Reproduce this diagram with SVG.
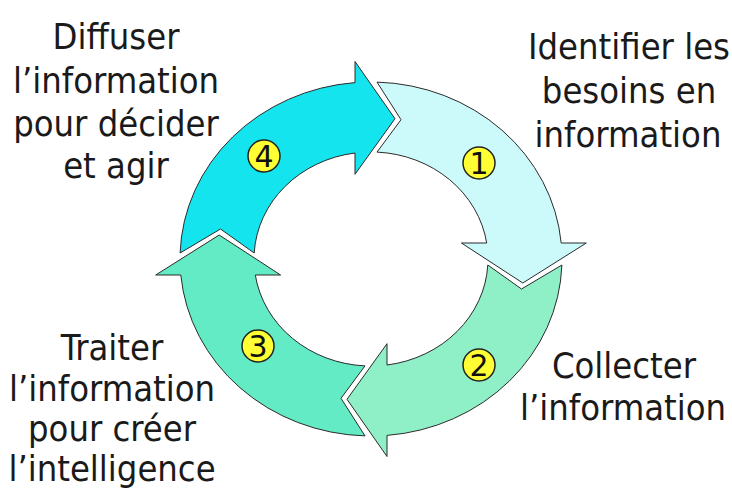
<svg xmlns="http://www.w3.org/2000/svg" width="732" height="500" viewBox="0 0 732 500">
<style>
.arrow{stroke:#2b2b2b;stroke-width:1;stroke-linejoin:miter}
.num{fill:#ffff33;stroke:#222;stroke-width:1.5}
.numt{font-family:'DejaVu Sans','Liberation Sans',sans-serif;font-size:30px;fill:#111;text-anchor:middle}
.lbl{font-family:'DejaVu Sans Condensed','DejaVu Sans','Liberation Sans',sans-serif;font-stretch:condensed;font-size:36px;fill:#1a1a1a;text-anchor:middle}
</style>
<rect width="732" height="500" fill="#ffffff"/>
<g id="connectors">
<path id="arrow1" class="arrow" fill="#ccfafa" d="M377,82.1 A191,177 0 0 1 561.2,243 L586.3,243 L522.8,283 L461.4,243 L486.7,243 A117,107 0 0 0 377,152.1 L401,119.7 Z"/>
<path id="arrow2" class="arrow" fill="#8ff0c8" d="M561.9,265 A191,177 0 0 1 387,435.4 L387,456.5 L347,399.3 L387,343.7 L387,365 A117,107 0 0 0 487.8,265 L521.5,289 Z"/>
<path id="arrow3" class="arrow" fill="#62ebc4" d="M365,435.9 A191,177 0 0 1 180.8,275 L155.7,275 L219.2,235 L280.6,275 L255.3,275 A117,107 0 0 0 365,365.9 L341,398.3 Z"/>
<path id="arrow4" class="arrow" fill="#14e4ee" d="M180.1,253 A191,177 0 0 1 355,82.6 L355,61.5 L395,118.7 L355,174.3 L355,153 A117,107 0 0 0 254.2,253 L220.5,229 Z"/>
</g>
<g id="step1">
<circle class="num" cx="479" cy="163" r="16"/>
<text class="numt" x="479" y="174">1</text>
<text class="lbl" x="629" y="59">Identifier les</text>
<text class="lbl" x="629" y="103">besoins en</text>
<text class="lbl" x="628" y="147">information</text>
</g>
<g id="step2">
<circle class="num" cx="479" cy="365" r="16"/>
<text class="numt" x="479" y="376">2</text>
<text class="lbl" x="624" y="378">Collecter</text>
<text class="lbl" x="623" y="420">l’information</text>
</g>
<g id="step3">
<circle class="num" cx="258" cy="346" r="16"/>
<text class="numt" x="258" y="357">3</text>
<text class="lbl" x="112" y="360">Traiter</text>
<text class="lbl" x="112" y="401">l’information</text>
<text class="lbl" x="112" y="441">pour créer</text>
<text class="lbl" x="112" y="481">l’intelligence</text>
</g>
<g id="step4">
<circle class="num" cx="264" cy="156" r="16"/>
<text class="numt" x="264" y="167">4</text>
<text class="lbl" x="116" y="49">Diffuser</text>
<text class="lbl" x="116" y="93">l’information</text>
<text class="lbl" x="116" y="136">pour décider</text>
<text class="lbl" x="116" y="178">et agir</text>
</g>
</svg>
